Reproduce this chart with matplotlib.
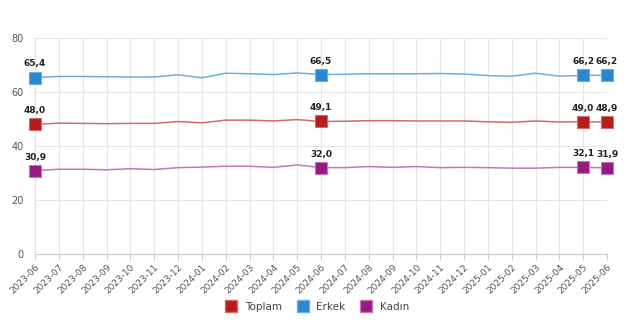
import numpy as np
import matplotlib
matplotlib.use("Agg")
import matplotlib.pyplot as plt
from matplotlib.lines import Line2D

months = ["2023-06", "2023-07", "2023-08", "2023-09", "2023-10", "2023-11", "2023-12",
          "2024-01", "2024-02", "2024-03", "2024-04", "2024-05", "2024-06", "2024-07",
          "2024-08", "2024-09", "2024-10", "2024-11", "2024-12", "2025-01", "2025-02",
          "2025-03", "2025-04", "2025-05", "2025-06"]
toplam = [48.0, 48.5, 48.4, 48.3, 48.4, 48.4, 49.1, 48.6, 49.6, 49.6, 49.3, 49.8, 49.1,
          49.2, 49.4, 49.4, 49.3, 49.3, 49.3, 49.0, 48.8, 49.3, 48.9, 49.0, 48.9]
erkek = [65.4, 65.8, 65.8, 65.7, 65.6, 65.6, 66.4, 65.3, 67.0, 66.8, 66.5, 67.1, 66.5,
         66.6, 66.8, 66.8, 66.8, 66.9, 66.7, 66.1, 65.9, 67.0, 65.9, 66.2, 66.2]
kadin = [30.9, 31.4, 31.4, 31.2, 31.6, 31.3, 32.0, 32.2, 32.5, 32.5, 32.1, 33.0, 32.0,
         32.0, 32.4, 32.1, 32.4, 32.0, 32.1, 32.0, 31.8, 31.8, 32.1, 32.1, 31.9]
marked = [0, 12, 23, 24]

series = [("Toplam", toplam, "#b71c1c", "#d46a6a"),
          ("Erkek", erkek, "#2a86cf", "#6aaee0"),
          ("Kadın", kadin, "#951b81", "#c874b8")]

fig = plt.figure(figsize=(6.3, 3.26), dpi=100)
ax = fig.add_axes([0.0556, 0.221, 0.9079, 0.662])
x = np.arange(len(months))

handles = []
for name, vals, col, lcol in series:
    ax.plot(x, vals, color=lcol, linewidth=1.1, zorder=2)
    mx = [x[i] for i in marked]
    my = [vals[i] for i in marked]
    ax.plot(mx, my, linestyle="none", marker="s", markersize=9, color=col,
            markeredgecolor=lcol, markeredgewidth=0.8, zorder=3, clip_on=False)
    for i in marked:
        ax.annotate("{:.1f}".format(vals[i]).replace(".", ","), (x[i], vals[i]),
                    xytext=(0, 6.5), textcoords="offset points", ha="center", va="bottom",
                    fontsize=6.5, fontweight="bold", color="#222222")
    handles.append(Line2D([], [], linestyle="none", marker="s", markersize=9, color=col,
                          markeredgecolor=lcol, label=name))

ax.set_xlim(0, len(months) - 1)
ax.set_ylim(0, 80)
ax.set_yticks([0, 20, 40, 60, 80])
ax.set_xticks(x)
ax.set_xticklabels(months, rotation=45, ha="right", rotation_mode="anchor",
                   fontsize=6.5, color="#555555")
ax.tick_params(axis="y", length=0, labelsize=7, colors="#555555", pad=8)
ax.tick_params(axis="x", length=4, color="#cccccc", pad=2)
ax.grid(True, color="#e6e6e6", linewidth=0.8)
ax.set_axisbelow(True)
for s in ["top", "right"]:
    ax.spines[s].set_visible(False)
ax.spines["left"].set_color("#e0e0e0")
ax.spines["bottom"].set_color("#cccccc")

fig.legend(handles=handles, loc="lower center", bbox_to_anchor=(0.5, 0.015), ncol=3,
           frameon=False, fontsize=7.5, handletextpad=0.3, columnspacing=1.0,
           labelcolor="#444444")

plt.savefig("out.png", dpi=100)
